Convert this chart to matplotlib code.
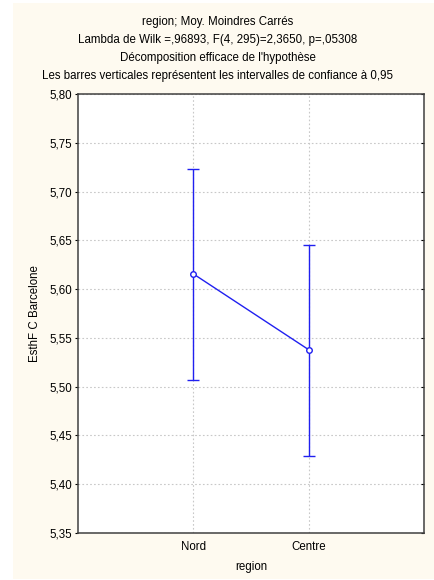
import matplotlib.pyplot as plt
from matplotlib.patches import Rectangle
from matplotlib.ticker import FuncFormatter

plt.rcParams['font.family'] = ['Liberation Sans', 'DejaVu Sans']

regions = ['Nord', 'Centre']
moyennes = [5.6156, 5.5379]
borne_inf = [5.5072, 5.4288]
borne_sup = [5.7233, 5.6453]
yticks = [5.35, 5.40, 5.45, 5.50, 5.55, 5.60, 5.65, 5.70, 5.75, 5.80]
titre = ["region; Moy. Moindres Carrés",
         "Lambda de Wilk =,96893, F(4, 295)=2,3650, p=,05308",
         "Décomposition efficace de l'hypothèse",
         "Les barres verticales représentent les intervalles de confiance à 0,95"]

W, H = 435, 580
fs = 8.3
fig = plt.figure(figsize=(W / 100, H / 100), dpi=100, facecolor='white')
# fond crème façon STATISTICA
fond = Rectangle((13 / W, 1 - 579 / H), (W - 13) / W, (579 - 3) / H,
                 transform=fig.transFigure, facecolor='#fefaf0',
                 edgecolor='none', zorder=-10)
fig.add_artist(fond)

ax = fig.add_axes([78 / W, 1 - 533 / H, (424 - 78) / W, (533 - 94) / H])
ax.set_facecolor('white')

x = [1, 2]
bleu = '#2020f0'
err_bas = [m - b for m, b in zip(moyennes, borne_inf)]
err_haut = [b - m for m, b in zip(moyennes, borne_sup)]
ax.errorbar(x, moyennes, yerr=[err_bas, err_haut], color=bleu, lw=1,
            elinewidth=1, capsize=4.5, capthick=1, marker='o', ms=4,
            mfc='white', mec=bleu, mew=1, zorder=3)

ax.set_xlim(0, 3)
ax.set_ylim(5.35, 5.80)
ax.set_xticks(x)
ax.set_xticklabels(regions)
ax.set_yticks(yticks)
ax.yaxis.set_major_formatter(FuncFormatter(lambda v, p: f'{v:.2f}'.replace('.', ',')))
ax.grid(True, color='#c8c8c8', ls=(0, (1.5, 2)), lw=0.8)
ax.tick_params(labelsize=fs, width=0.8, pad=2)
ax.tick_params(axis='x', length=0, pad=5.5)
ax.tick_params(axis='y', left=True, right=True, direction='out', length=2.5)
for t in ax.yaxis.get_major_ticks():
    t.tick2line.set_marker(0)  # petites graduations vers l'intérieur à droite
    t.tick2line.set_markersize(2)
for s in ax.spines.values():
    s.set_linewidth(1.1)
    s.set_color('#404040')

ax.set_xlabel('region', fontsize=fs, labelpad=6)
ax.set_ylabel('EsthF C Barcelone', fontsize=fs, labelpad=6)

for i, t in enumerate(titre):
    fig.text(0.5, 1 - (22 + i * 18) / H, t, ha='center', va='center', fontsize=fs)

fig.savefig('out.png', dpi=100, facecolor=fig.get_facecolor())
